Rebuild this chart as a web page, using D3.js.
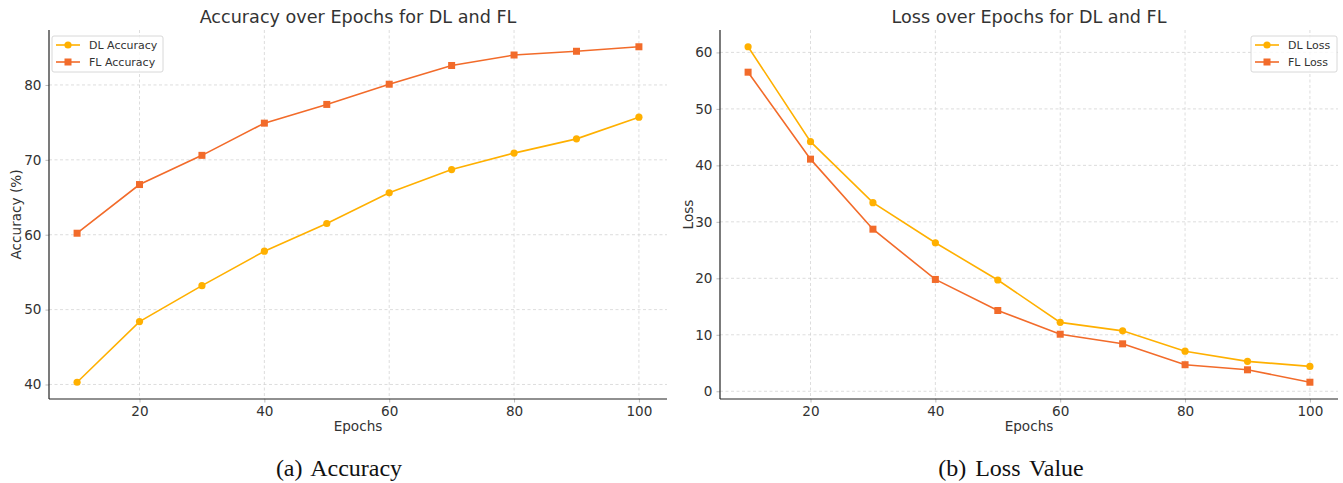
<!DOCTYPE html>
<html>
<head>
<meta charset="utf-8">
<script src="https://cdn.jsdelivr.net/npm/d3@7"></script>
<style>
  body { margin: 0; background: #fff; }
  svg text { font-family: "DejaVu Sans", sans-serif; }
</style>
</head>
<body>
<svg id="chart" width="1343" height="483"></svg>
<script>
// values
var epochs = [10, 20, 30, 40, 50, 60, 70, 80, 90, 100];
var dlAccuracy = [40.3, 48.4, 53.2, 57.8, 61.5, 65.6, 68.7, 70.9, 72.8, 75.7];
var flAccuracy = [60.2, 66.7, 70.6, 74.9, 77.4, 80.1, 82.6, 84.0, 84.5, 85.1];
var dlLoss = [61.0, 44.2, 33.4, 26.3, 19.7, 12.2, 10.7, 7.1, 5.3, 4.4];
var flLoss = [56.5, 41.1, 28.7, 19.8, 14.3, 10.1, 8.4, 4.7, 3.8, 1.6];
var xTicks = [20, 40, 60, 80, 100];
var accTicks = [40, 50, 60, 70, 80];
var lossTicks = [0, 10, 20, 30, 40, 50, 60];

var DL_COLOR = "#ffb000";
var FL_COLOR = "#f26b2a";

var svg = d3.select("#chart");

/**
 * Draws one panel: axes, grid, two series and a legend.
 */
function drawPanel(opts) {
    var g = svg.append("g");
    var x = d3.scaleLinear().domain(padded(epochs)).range([opts.left, opts.right]);
    var allY = opts.series[0].values.concat(opts.series[1].values);
    var y = d3.scaleLinear().domain(padded(allY)).range([opts.bottom, opts.top]);

    // grid
    g.append("g").selectAll("line").data(xTicks).enter().append("line")
        .attr("x1", function(d) { return x(d); }).attr("x2", function(d) { return x(d); })
        .attr("y1", opts.top).attr("y2", opts.bottom)
        .attr("stroke", "#d4d4d4").attr("stroke-width", 0.8).attr("stroke-dasharray", "3,2.5");
    g.append("g").selectAll("line").data(opts.yTicks).enter().append("line")
        .attr("x1", opts.left).attr("x2", opts.right)
        .attr("y1", function(d) { return y(d); }).attr("y2", function(d) { return y(d); })
        .attr("stroke", "#d4d4d4").attr("stroke-width", 0.8).attr("stroke-dasharray", "3,2.5");

    // axes
    var xAxis = g.append("g").attr("transform", "translate(0," + opts.bottom + ")")
        .call(d3.axisBottom(x).tickValues(xTicks).tickSize(3.5).tickPadding(4));
    var yAxis = g.append("g").attr("transform", "translate(" + opts.left + ",0)")
        .call(d3.axisLeft(y).tickValues(opts.yTicks).tickSize(3.5).tickPadding(4));
    [xAxis, yAxis].forEach(function(a) {
        a.select(".domain").remove();
        a.selectAll(".tick line").attr("stroke", "#bbb");
        a.selectAll(".tick text").attr("fill", "#333").style("font-size", "13.6px")
            .style("font-family", "DejaVu Sans");
    });
    g.append("line").attr("x1", opts.left).attr("x2", opts.right)
        .attr("y1", opts.bottom).attr("y2", opts.bottom)
        .attr("stroke", "#222").attr("stroke-width", 1.2);
    g.append("line").attr("x1", opts.left).attr("x2", opts.left)
        .attr("y1", opts.top).attr("y2", opts.bottom)
        .attr("stroke", "#222").attr("stroke-width", 1.2);

    // series
    var line = d3.line()
        .x(function(d, i) { return x(epochs[i]); })
        .y(function(d) { return y(d); });
    opts.series.forEach(function(s) {
        g.append("path").datum(s.values).attr("d", line)
            .attr("fill", "none").attr("stroke", s.color).attr("stroke-width", 1.6);
        drawMarkers(g, s, x, y);
    });

    // titles
    g.append("text").attr("x", (opts.left + opts.right) / 2).attr("y", 23)
        .attr("text-anchor", "middle").attr("fill", "#333").style("font-size", "17.6px")
        .text(opts.title);
    g.append("text").attr("x", (opts.left + opts.right) / 2).attr("y", 431)
        .attr("text-anchor", "middle").attr("fill", "#333").style("font-size", "13.6px")
        .text("Epochs");
    g.append("text")
        .attr("transform", "translate(" + opts.yLabelX + "," + ((opts.top + opts.bottom) / 2) + ") rotate(-90)")
        .attr("text-anchor", "middle").attr("fill", "#333").style("font-size", "13.6px")
        .text(opts.yLabel);
    g.append("text").attr("x", opts.captionX).attr("y", 476)
        .attr("text-anchor", "middle").attr("fill", "#111")
        .style("font-family", "Liberation Serif").style("font-size", "24px")
        .style("word-spacing", "3px")
        .text(opts.caption);

    // legend
    var lg = g.append("g").attr("transform", "translate(" + opts.legendX + "," + opts.legendY + ")");
    lg.append("rect").attr("width", opts.legendW).attr("height", 36).attr("rx", 2)
        .attr("fill", "#fff").attr("fill-opacity", 0.8).attr("stroke", "#d8d8d8");
    opts.series.forEach(function(s, i) {
        var ly = 9 + i * 17;
        lg.append("line").attr("x1", 4).attr("x2", 28).attr("y1", ly).attr("y2", ly)
            .attr("stroke", s.color).attr("stroke-width", 1.6);
        drawMarker(lg, s.shape, 16, ly, s.color);
        lg.append("text").attr("x", 37).attr("y", ly + 4).attr("fill", "#333")
            .style("font-size", "11px").text(s.name);
    });
}

function padded(values) {
    var ext = d3.extent(values);
    var pad = (ext[1] - ext[0]) * 0.05;
    return [ext[0] - pad, ext[1] + pad];
}

function drawMarkers(g, s, x, y) {
    s.values.forEach(function(v, i) {
        drawMarker(g, s.shape, x(epochs[i]), y(v), s.color);
    });
}

function drawMarker(g, shape, cx, cy, color) {
    if (shape === "circle") {
        g.append("circle").attr("cx", cx).attr("cy", cy).attr("r", 3.6).attr("fill", color);
    } else {
        g.append("rect").attr("x", cx - 3.5).attr("y", cy - 3.5)
            .attr("width", 7).attr("height", 7).attr("fill", color);
    }
}

drawPanel({
    left: 49, right: 667, top: 30, bottom: 399,
    yTicks: accTicks,
    title: "Accuracy over Epochs for DL and FL",
    yLabel: "Accuracy (%)", yLabelX: 21,
    caption: "(a) Accuracy", captionX: 339,
    legendX: 52, legendY: 36, legendW: 111,
    series: [
        { name: "DL Accuracy", values: dlAccuracy, color: DL_COLOR, shape: "circle" },
        { name: "FL Accuracy", values: flAccuracy, color: FL_COLOR, shape: "square" }
    ]
});

drawPanel({
    left: 720, right: 1338, top: 30, bottom: 399,
    yTicks: lossTicks,
    title: "Loss over Epochs for DL and FL",
    yLabel: "Loss", yLabelX: 693,
    caption: "(b) Loss Value", captionX: 1011,
    legendX: 1251, legendY: 36, legendW: 86,
    series: [
        { name: "DL Loss", values: dlLoss, color: DL_COLOR, shape: "circle" },
        { name: "FL Loss", values: flLoss, color: FL_COLOR, shape: "square" }
    ]
});
</script>
</body>
</html>
